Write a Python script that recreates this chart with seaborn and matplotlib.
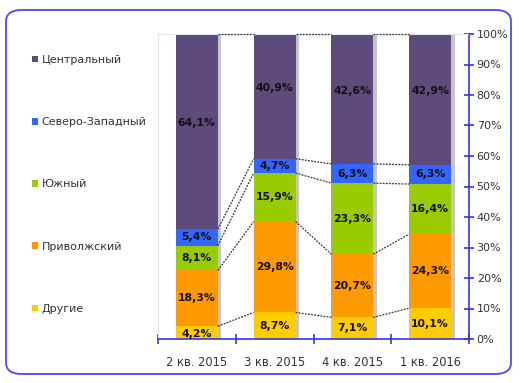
import matplotlib
matplotlib.use("Agg")
import matplotlib.pyplot as plt
import seaborn as sns
import numpy as np
from matplotlib.patches import FancyBboxPatch, Patch
import matplotlib.patheffects as pe

quarters = ["2 кв. 2015", "3 кв. 2015", "4 кв. 2015", "1 кв. 2016"]
series = ["Другие", "Приволжский", "Южный", "Северо-Западный", "Центральный"]
drugie = [4.2, 8.7, 7.1, 10.1]
privolzh = [18.3, 29.8, 20.7, 24.3]
yuzhny = [8.1, 15.9, 23.3, 16.4]
sev_zap = [5.4, 4.7, 6.3, 6.3]
central = [64.1, 40.9, 42.6, 42.9]
colors = ["#FFCC00", "#FF9900", "#99CC00", "#3366FF", "#5F4B7B"]
values = [drugie, privolzh, yuzhny, sev_zap, central]

sns.set_theme(style="white")
plt.rcParams["font.family"] = ["DejaVu Sans"]

W, H = 524, 383
fig = plt.figure(figsize=(W / 100, H / 100), dpi=100)
ax = fig.add_axes([158 / W, 1 - 339 / H, (469 - 158) / W, (339 - 34) / H])

# rounded border
border = FancyBboxPatch((6 / W, 9 / H), (511 - 6) / W, (373 - 9) / H,
                        boxstyle="round,pad=0,rounding_size=0.03",
                        transform=fig.transFigure, fill=False,
                        edgecolor="#4A4AF2", linewidth=1.3, zorder=0)
fig.patches.append(border)

bw = 0.54
vals = np.array(values)
cum = np.cumsum(vals, axis=0)

# draw cumulative layers top-down
for k in range(len(series) - 1, -1, -1):
    sns.barplot(x=quarters, y=list(np.minimum(cum[k], 100)), color=colors[k],
                saturation=1, width=bw, ax=ax, order=quarters, linewidth=0,
                zorder=2)
n = len(quarters)
for p in ax.patches[:n]:
    p.set_path_effects([pe.SimplePatchShadow(offset=(2.5, -1), shadow_rgbFace="#808080", alpha=0.45), pe.Normal()])

# series lines
for k in range(len(series)):
    top = np.minimum(cum[k], 100)
    for j in range(n - 1):
        ax.plot([j + bw / 2, j + 1 - bw / 2], [top[j], top[j + 1]],
                color="#333333", lw=0.9, ls=(0, (1.5, 1)), zorder=4, clip_on=False)

# data labels
for k in range(len(series)):
    bottom = cum[k] - vals[k]
    for j in range(n):
        y = bottom[j] + vals[k][j] / 2
        if k == len(series) - 1:
            y += 2.7
        if k == 0 and j == 0:
            y = 1.6
        ax.text(j, y, f"{vals[k][j]:.1f}%".replace(".", ","), ha="center",
                va="center", fontsize=7.8, fontweight="bold", color="#111111", zorder=5)

ax.set_xlim(-0.5, n - 0.5)
ax.set_ylim(0, 100)
ax.set_yticks(np.arange(0, 101, 10))
ax.set_yticklabels([f"{v}%" for v in range(0, 101, 10)])
ax.yaxis.tick_right()
ax.set_xlabel("")
ax.set_ylabel("")
blue = "#3333EE"
for s in ["left", "top"]:
    ax.spines[s].set_color("#DDE4F2")
    ax.spines[s].set_linestyle((0, (1, 1)))
    ax.spines[s].set_linewidth(0.8)
for s in ["right", "bottom"]:
    ax.spines[s].set_color(blue)
    ax.spines[s].set_linewidth(1.2)
ax.tick_params(axis="y", which="major", right=True, left=False, direction="inout",
               length=7, width=1.2, color=blue, labelcolor="#333333", labelsize=8, pad=2)
ax.tick_params(axis="x", which="major", length=0, labelcolor="#333333", labelsize=8.3, pad=12)
ax.set_xticks(np.arange(-0.5, n, 1.0), minor=True)
ax.tick_params(axis="x", which="minor", bottom=True, direction="inout", length=7,
               width=1.2, color=blue)

handles = [Patch(facecolor=colors[k], edgecolor="none") for k in range(len(series) - 1, -1, -1)]
labels = [series[k] for k in range(len(series) - 1, -1, -1)]
fig.legend(handles, labels, loc="upper left", bbox_to_anchor=(32 / W, 1 - 55 / H),
           frameon=False, fontsize=8, handlelength=0.55, handleheight=0.55,
           handletextpad=0.3, labelspacing=4.7, borderpad=0, borderaxespad=0,
           labelcolor="#333333")

fig.savefig("out.png", dpi=100)
